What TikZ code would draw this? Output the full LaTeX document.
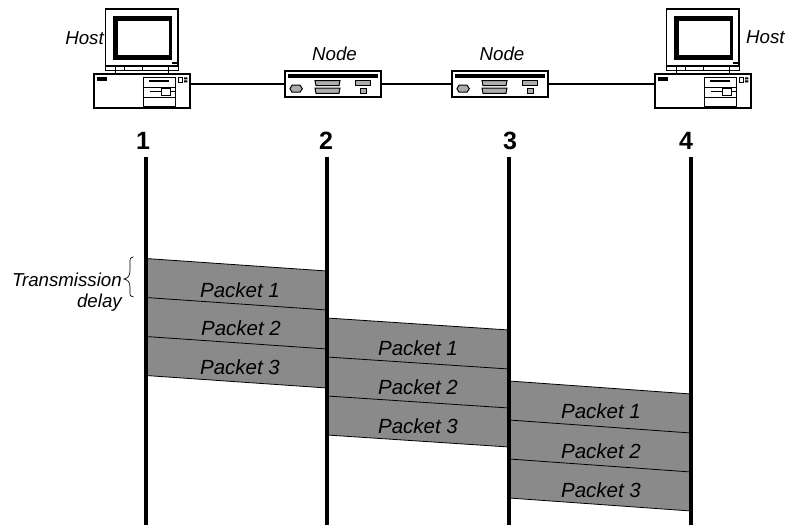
\documentclass[tikz,border=0pt]{standalone}
\usepackage{fontspec}
\setmainfont{Liberation Sans}
\definecolor{pk}{HTML}{8A8A8A}
\tikzset{
 x=1pt,y=-1pt,
 boxshape/.style={draw=black,line width=1.3pt,fill=white,rectangle,inner sep=0,outer sep=0},
 thinl/.style={line width=1pt},
 lab/.style={font=\fontsize{18.7}{20}\selectfont\itshape,inner sep=0},
 pktlab/.style={font=\fontsize{20.5}{22}\selectfont\itshape,inner sep=0},
 num/.style={font=\fontsize{25}{27}\selectfont\bfseries,inner sep=0},
 axisline/.style={line width=3.2pt},
 link/.style={line width=2.6pt},
 pkt/.style={fill=pk,draw=none},
 pktedge/.style={draw=black,line width=.8pt},
 port/.style={draw=black,line width=1pt,fill=pk!70},
 host/.pic={
  \draw[line width=1.3pt,fill=white] (11.7,-65) rectangle (84,-8);
  \fill (19.3,-58) rectangle (77.7,-14);
  \fill[white] (24.3,-53) rectangle (75.3,-19);
  \fill (77.7,-12) rectangle (82.7,-10);
  \draw[thinl,fill=white] (11.7,-8) rectangle (84,-4);
  \draw[thinl] (30,-8)--(30,-4) (48,-8)--(48,-4);
  \draw[thinl] (21,-8)--(21,0) (74,-8)--(74,0);
  \node[boxshape,minimum width=96pt,minimum height=34pt,anchor=north west] (-case) at (0,0) {};
  \fill (2.7,3.3) rectangle (12.7,7);
  \draw[thinl] (49.3,3.3) rectangle (81,32);
  \fill (55,6.3) rectangle (75,8);
  \draw[thinl] (49.3,13.3)--(81,13.3) (49.3,23.3)--(81,23.3);
  \draw[thinl] (56,17.7)--(81,17.7);
  \draw[thinl,fill=white] (67,14.5) rectangle (76,21);
  \draw[thinl] (84.3,3.5) rectangle (88.7,8);
  \fill (90,3.3) rectangle (93.3,5.3) (90,6.3) rectangle (93.3,8.3);
 },
 router/.pic={
  \node[boxshape,minimum width=96pt,minimum height=26pt,anchor=north west] (-case) at (0,0) {};
  \fill (3.3,3) rectangle (93.3,7.3);
  \draw[port] (7,14.2)--(15,14.2)--(17.3,17.7)--(15,21.2)--(7,21.2)--(5,17.7)--cycle;
  \draw[port] (30,9.7)--(55,9.7)--(54,14.7)--(31,14.7)--cycle;
  \draw[port] (30,17)--(55,17)--(54,22.3)--(31,22.3)--cycle;
  \draw[port] (70,9.7) rectangle (85.7,14.7);
  \draw[port] (75.7,17.3) rectangle (81,22.3);
 }
}
\begin{document}
\begin{tikzpicture}
\useasboundingbox (0,0) rectangle (787,525);
\foreach \xa/\xb/\ya/\yb in {146/327/258.5/271, 327/509/318/330, 509/691/381/394}{
  \fill[pk] (\xa,\ya) -- (\xb,\yb) -- (\xb,\yb+117) -- (\xa,\ya+117) -- cycle;
  \foreach \k in {0,1,2,3}
    \draw[pktedge] (\xa,\ya+39*\k) -- (\xb,\yb+39*\k);
}
\node[num] (n1) at (143,141) {1};
\node[num] (n2) at (326,141) {2};
\node[num] (n3) at (510,141) {3};
\node[num] (n4) at (686,141) {4};
\coordinate (b1) at (146,524.5); \coordinate (t1) at (146,157);
\coordinate (b2) at (327,524.5); \coordinate (t2) at (327,157);
\coordinate (b3) at (509,524.5); \coordinate (t3) at (509,157);
\coordinate (b4) at (691,524.5); \coordinate (t4) at (691,157);
\foreach \i in {1,2,3,4} \draw[axisline] (t\i) -- (b\i);
\pic (ha) at (94,74) {host};
\pic (hb) at (655,74) {host};
\pic (ra) at (285,71) {router};
\pic (rb) at (452,71) {router};
\draw[link] (ha-case.east |- 0,84) -- (ra-case.west |- 0,84);
\draw[link] (ra-case.east |- 0,84) -- (rb-case.west |- 0,84);
\draw[link] (rb-case.east |- 0,84) -- (hb-case.west |- 0,84);
\node[lab,anchor=east] (lh1) at (104,38) {Host};
\node[lab,anchor=west] (lh2) at (746,37) {Host};
\node[lab] (ln1) at (334.5,54) {Node};
\node[lab] (ln2) at (502,54) {Node};
\node[lab,anchor=east] (td1) at (122,280) {Transmission};
\node[lab,anchor=east] (td2) at (122,303) {delay};
\draw[line width=.7pt] (133.5,256.8) .. controls (130.5,256.8) and (130,258.5) .. (130,262)
  -- (130,270) .. controls (130,276) and (128,278) .. (124,279)
  .. controls (128,280) and (130,282) .. (130,288) -- (130,292)
  .. controls (130,295.5) and (130.5,297) .. (133.5,297);
\foreach \x/\y/\t [count=\i] in {
 240/290/Packet 1, 241/328/Packet 2, 240/367/Packet 3,
 418/348/Packet 1, 418/387/Packet 2, 418/426/Packet 3,
 601/411/Packet 1, 601/451/Packet 2, 601/490/Packet 3}
  \node[pktlab] (p\i) at (\x,\y) {\t};
\end{tikzpicture}
\end{document}
